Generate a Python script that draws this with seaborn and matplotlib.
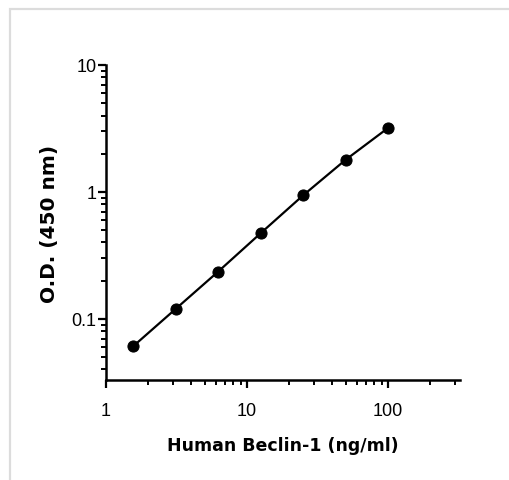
import matplotlib
matplotlib.use("Agg")
import matplotlib.pyplot as plt
import matplotlib.ticker as mticker
from matplotlib.patches import Rectangle
import seaborn as sns
import pandas as pd

# standard curve values
concentration = [1.5625, 3.125, 6.25, 12.5, 25, 50, 100]
od_450 = [0.061, 0.12, 0.236, 0.473, 0.94, 1.79, 3.19]

x_ticks = [1, 10, 100]
x_tick_labels = ["1", "10", "100"]
y_ticks = [0.1, 1, 10]
y_tick_labels = ["0.1", "1", "10"]

df = pd.DataFrame({"conc": concentration, "od": od_450})

sns.set_style("ticks", {"axes.edgecolor": "black", "text.color": "black",
                        "axes.labelcolor": "black", "xtick.color": "black",
                        "ytick.color": "black"})
plt.rcParams["font.family"] = ["Liberation Sans", "DejaVu Sans"]

fig = plt.figure(figsize=(5.10, 4.81), dpi=100)

# light grey frame round the picture
fig.patches.append(Rectangle((10 / 510, -0.1), 1.2, 471 / 481 + 0.1,
                             transform=fig.transFigure, fill=False,
                             edgecolor="#dcdcdc", linewidth=1.6))

ax = fig.add_axes([106 / 510, 100 / 481, 354 / 510, 315 / 481])

sns.lineplot(data=df, x="conc", y="od", marker="o", color="black",
             markersize=8, linewidth=1.6, markeredgecolor="black", ax=ax)

ax.set_xscale("log")
ax.set_yscale("log")
ax.set_xlim(1, 324)
ax.set_ylim(0.033, 10)

ax.set_xticks(x_ticks)
ax.set_xticklabels(x_tick_labels)
ax.set_yticks(y_ticks)
ax.set_yticklabels(y_tick_labels)
ax.xaxis.set_minor_locator(mticker.LogLocator(base=10, subs=range(2, 10), numticks=20))
ax.yaxis.set_minor_locator(mticker.LogLocator(base=10, subs=range(2, 10), numticks=20))
ax.xaxis.set_minor_formatter(mticker.NullFormatter())
ax.yaxis.set_minor_formatter(mticker.NullFormatter())

for side in ["top", "right"]:
    ax.spines[side].set_visible(False)
for side in ["left", "bottom"]:
    ax.spines[side].set_linewidth(1.8)

ax.tick_params(which="major", length=6, width=1.6, labelsize=13)
ax.tick_params(axis="x", which="major", pad=10)
ax.tick_params(axis="y", which="major", pad=1)
ax.tick_params(which="minor", length=3.5, width=1.4)

ax.set_xlabel("Human Beclin-1 (ng/ml)", fontsize=12.5, fontweight="bold",
              family=["DejaVu Sans"], labelpad=12)
ax.set_ylabel("O.D. (450 nm)", fontsize=14.5, fontweight="bold",
              family=["DejaVu Sans"], labelpad=9)

fig.savefig("out.png", dpi=100)
